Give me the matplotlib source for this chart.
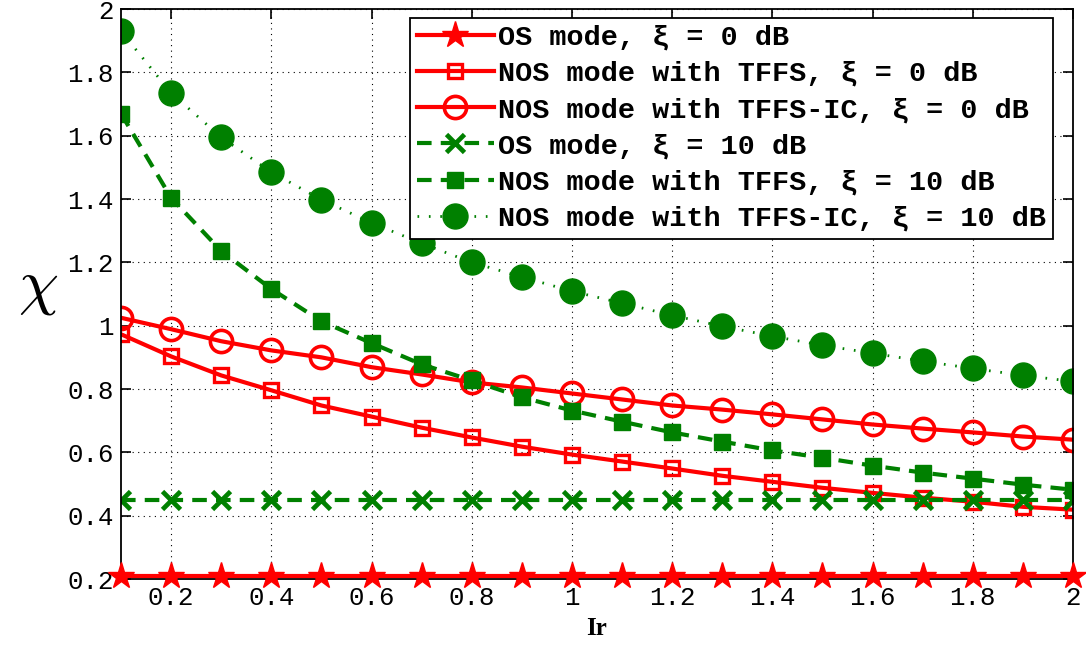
import numpy as np
import matplotlib
matplotlib.use("Agg")
import matplotlib.pyplot as plt

# Datos
ir = np.round(np.arange(1, 21) * 0.1, 1)

os_0 = [0.21] * 20
nos_tffs_0 = [0.973, 0.903, 0.843, 0.796, 0.748, 0.713, 0.678, 0.647, 0.618, 0.593,
              0.571, 0.549, 0.526, 0.507, 0.488, 0.472, 0.457, 0.444, 0.428, 0.419]
nos_ic_0 = [1.025, 0.989, 0.951, 0.922, 0.900, 0.869, 0.846, 0.821, 0.805, 0.786,
            0.767, 0.748, 0.735, 0.720, 0.704, 0.688, 0.675, 0.663, 0.650, 0.640]
os_10 = [0.45] * 20
nos_tffs_10 = [1.670, 1.404, 1.236, 1.116, 1.014, 0.945, 0.878, 0.827, 0.774, 0.732,
               0.697, 0.663, 0.634, 0.606, 0.583, 0.558, 0.536, 0.517, 0.498, 0.482]
nos_ic_10 = [1.930, 1.735, 1.595, 1.485, 1.398, 1.325, 1.260, 1.200, 1.154, 1.109,
             1.071, 1.033, 0.998, 0.967, 0.938, 0.913, 0.888, 0.865, 0.843, 0.824]

etiquetas = ["OS mode, ξ = 0 dB",
             "NOS mode with TFFS, ξ = 0 dB",
             "NOS mode with TFFS-IC, ξ = 0 dB",
             "OS mode, ξ = 10 dB",
             "NOS mode with TFFS, ξ = 10 dB",
             "NOS mode with TFFS-IC, ξ = 10 dB"]
ticks = [0.2, 0.4, 0.6, 0.8, 1, 1.2, 1.4, 1.6, 1.8, 2]
tick_txt = ["0.2", "0.4", "0.6", "0.8", "1", "1.2", "1.4", "1.6", "1.8", "2"]

rojo = "#ff0000"
verde = "#008000"

plt.rcParams["mathtext.fontset"] = "cm"

fig = plt.figure(figsize=(10.86, 6.46), dpi=100)
ax = fig.add_axes([0.1114, 0.1037, 0.8766, 0.8823])

lw = 3.0
# las estrellas sobresalen del eje inferior
ax.plot(ir, os_0, "-", color=rojo, lw=lw, marker="*", ms=20, clip_on=False,
        zorder=5, label=etiquetas[0])
ax.plot(ir, nos_tffs_0, "-", color=rojo, lw=lw, marker="s", ms=10,
        mfc="none", mew=2.4, label=etiquetas[1])
ax.plot(ir, nos_ic_0, "-", color=rojo, lw=lw, marker="o", ms=16,
        mfc="none", mew=2.6, label=etiquetas[2])
ax.plot(ir, os_10, "--", color=verde, lw=lw, marker="x", ms=13, mew=3.4,
        dashes=(3.5, 2.2), label=etiquetas[3])
ax.plot(ir, nos_tffs_10, "--", color=verde, lw=lw, marker="s", ms=12,
        dashes=(3.5, 2.2), label=etiquetas[4])
ax.plot(ir, nos_ic_10, ":", color=verde, lw=2.0, marker="o", ms=18,
        dashes=(0.6, 3.5), label=etiquetas[5])

ax.set_xlim(0.1, 2.0)
ax.set_ylim(0.2, 2.0)
ax.set_xticks(ticks)
ax.set_xticklabels(tick_txt)
ax.set_yticks(ticks)
ax.set_yticklabels(tick_txt)

for lab in ax.get_xticklabels() + ax.get_yticklabels():
    lab.set_family("Liberation Mono")
    lab.set_fontsize(18.5)
ax.tick_params(direction="in", length=7, width=1.2, top=True, right=True)
ax.tick_params(axis="y", pad=5)
ax.tick_params(axis="x", pad=5)

ax.grid(True, color="black", linestyle=(0, (1, 4)), linewidth=0.8)
for s in ax.spines.values():
    s.set_linewidth(1.3)

ax.set_xlabel("Ir", family="Liberation Serif", fontweight="bold", fontsize=18, labelpad=5)
ax.set_ylabel(r"$\chi$", fontsize=46, rotation=0)
ax.yaxis.set_label_coords(-0.087, 0.46)

leg = ax.legend(loc="upper right", bbox_to_anchor=(0.985, 0.995),
                prop={"family": ["Liberation Mono", "DejaVu Sans"], "weight": "bold", "size": 20.5},
                frameon=True, fancybox=False, edgecolor="black", framealpha=1,
                handlelength=2.7, handletextpad=0.15, borderpad=0.25,
                labelspacing=0.36, borderaxespad=0.2)
leg.get_frame().set_linewidth(1.3)
leg.set_zorder(10)

fig.savefig("out.png", dpi=100)
